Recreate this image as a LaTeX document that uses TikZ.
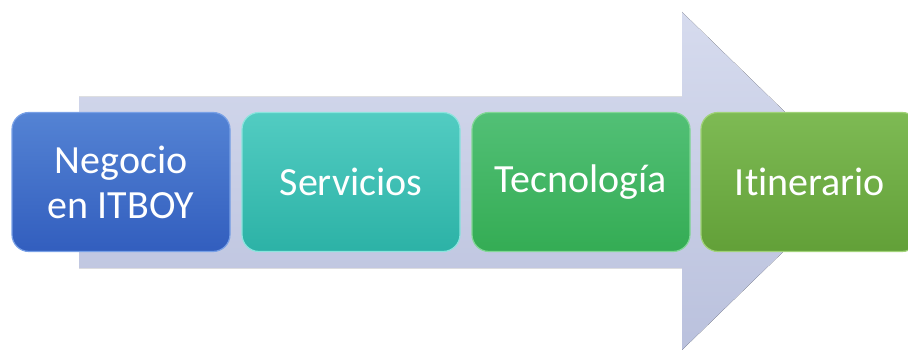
\documentclass[tikz,border=0pt]{standalone}
\usepackage{fontspec}
\setmainfont{Carlito}[Ligatures=NoCommon]
\usepackage{tikz}
\usetikzlibrary{positioning,calc}
\definecolor{flechaA}{HTML}{D6DBEE}
\definecolor{flechaB}{HTML}{BAC1DD}
\tikzstyle{flecha}=[top color=flechaA, bottom color=flechaB]
\tikzstyle{paso}=[text=white, align=center, minimum width=218pt,
minimum height=139pt, rounded corners=17pt, line width=1.2pt,
font=\fontsize{40}{45}\selectfont]
\tikzstyle{azul}=[paso, top color={rgb,255:red,84;green,131;blue,212}, bottom color={rgb,255:red,50;green,94;blue,190}, draw={rgb,255:red,120;green,160;blue,230}]
\tikzstyle{turquesa}=[paso, top color={rgb,255:red,82;green,204;blue,194}, bottom color={rgb,255:red,44;green,178;blue,166}, draw={rgb,255:red,140;green,228;blue,222}]
\tikzstyle{verde}=[paso, top color={rgb,255:red,82;green,192;blue,118}, bottom color={rgb,255:red,52;green,172;blue,84}, draw={rgb,255:red,130;green,215;blue,150}]
\tikzstyle{oliva}=[paso, top color={rgb,255:red,126;green,186;blue,84}, bottom color={rgb,255:red,98;green,160;blue,56}, draw={rgb,255:red,160;green,210;blue,120}]
\newcommand{\paso}[3]{node (p#1)[#2]{#3}}

\begin{document}
\begin{tikzpicture}[x=1pt,y=-1pt]
		\useasboundingbox (0,0) rectangle (908,350);
		
		% Draw the big arrow
		\fill[flecha] (79,97) -- (682,97) -- (682,12) -- (856,181)
		-- (682,350) -- (682,268) -- (79,268) -- cycle;
		
		% Draw diagram elements
		\path (121,182) \paso{1}{azul}{Negocio\\en ITBOY};
		\path (p1.center)+(230,0) \paso{2}{turquesa}{Servicios};
		\path (p2.center)+(230,0) \paso{3}{verde}{Tecnología};
		\path (p3.center)+(229,0) \paso{4}{oliva}{Itinerario};
		
\end{tikzpicture}
\end{document}
